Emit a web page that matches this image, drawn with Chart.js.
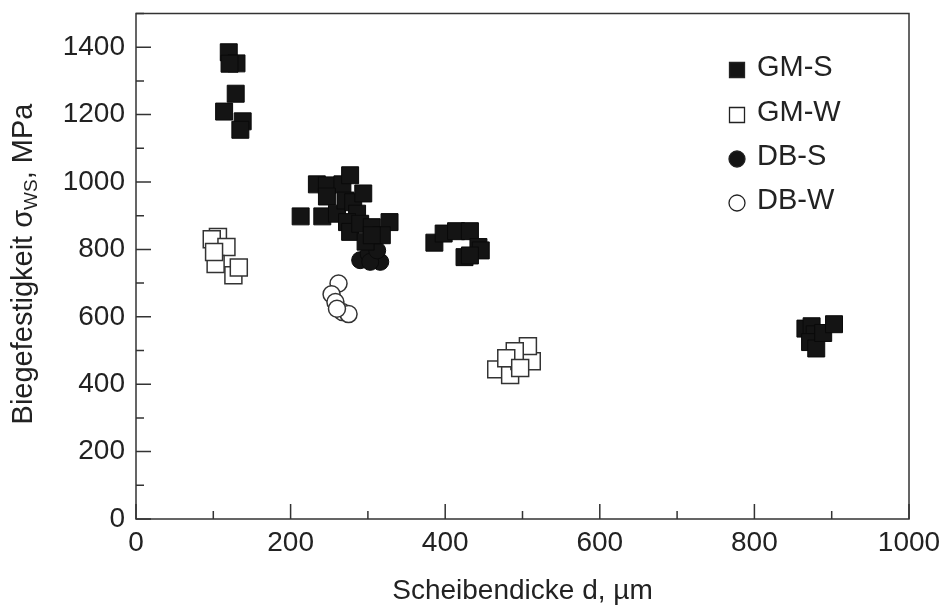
<!DOCTYPE html>
<html>
<head>
<meta charset="utf-8">
<script src="https://cdn.jsdelivr.net/npm/chart.js@4.4.0/dist/chart.umd.min.js"></script>
<style>
  html, body { margin: 0; padding: 0; background: #fff; }
</style>
</head>
<body>
<canvas id="chart" width="945" height="609"></canvas>
<script>
const gmS_d = [120, 130, 121, 129, 114, 138, 135,
  213, 241, 234, 247, 267, 277, 247, 260, 271, 281, 286, 273, 277, 290, 305, 328, 318, 297, 305, 294,
  386, 398, 414, 432, 443, 446, 425, 432,
  866, 874, 878, 872, 880, 889, 903];
const gmS_s = [1385, 1352, 1351, 1262, 1209, 1180, 1155,
  898, 898, 993, 990, 993, 1020, 957, 906, 945, 940, 906, 881, 852, 876, 866, 881, 842, 823, 842, 966,
  820, 847, 854, 854, 807, 797, 777, 782,
  565, 572, 548, 525, 506, 552, 578];

const gmW_d = [106, 98, 117, 103, 126, 133, 101, 466, 484, 496, 512, 507, 490, 479, 497];
const gmW_s = [837, 830, 807, 757, 723, 746, 792, 444, 427, 469, 468, 513, 498, 477, 448];

const dbS_d = [290, 301, 316, 303, 312];
const dbS_s = [768, 787, 763, 763, 797];

const dbW_d = [262, 253, 258, 267, 275, 260];
const dbW_s = [699, 667, 644, 614, 608, 624];

const seriesLabels = ['GM-S', 'GM-W', 'DB-S', 'DB-W'];
const xTicks = [0, 200, 400, 600, 800, 1000];
const yTicks = [0, 200, 400, 600, 800, 1000, 1200, 1400];

const FONT = '"Liberation Sans", Arial, sans-serif';
const INK = '#222';

function pts(xs, ys) {
  return xs.map((x, i) => ({ x, y: ys[i] }));
}

// Rahmen, Teilstriche, Achsentitel und Legende
const decor = {
  id: 'decor',
  afterDraw(chart) {
    const { ctx, chartArea: a, scales } = chart;
    const xs = scales.x, ys = scales.y;
    ctx.save();
    ctx.strokeStyle = '#333';
    ctx.lineWidth = 1.5;
    ctx.strokeRect(a.left, a.top, a.right - a.left, a.bottom - a.top);

    ctx.beginPath();
    xTicks.forEach((v, i) => {
      const p = xs.getPixelForValue(v);
      ctx.moveTo(p, a.bottom); ctx.lineTo(p, a.bottom - 15);
      if (i < xTicks.length - 1) {
        const m = xs.getPixelForValue(v + 100);
        ctx.moveTo(m, a.bottom); ctx.lineTo(m, a.bottom - 8);
      }
    });
    yTicks.forEach(v => {
      const p = ys.getPixelForValue(v);
      ctx.moveTo(a.left, p); ctx.lineTo(a.left + 15, p);
      const m = ys.getPixelForValue(v + 100);
      ctx.moveTo(a.left, m); ctx.lineTo(a.left + 8, m);
    });
    ctx.stroke();

    // x-Titel
    ctx.fillStyle = INK;
    ctx.font = '28px ' + FONT;
    ctx.textAlign = 'center';
    ctx.textBaseline = 'middle';
    ctx.fillText('Scheibendicke d, µm', (a.left + a.right) / 2, 591);

    // y-Titel mit Index
    const big = '29px ' + FONT, small = '19px ' + FONT;
    const t1 = 'Biegefestigkeit σ', t2 = 'WS', t3 = ', MPa';
    ctx.font = big; const w1 = ctx.measureText(t1).width, w3 = ctx.measureText(t3).width;
    ctx.font = small; const w2 = ctx.measureText(t2).width;
    const total = w1 + w2 + w3;
    ctx.translate(22, 264);
    ctx.rotate(-Math.PI / 2);
    ctx.textAlign = 'left';
    ctx.textBaseline = 'alphabetic';
    let cx = -total / 2;
    ctx.font = big; ctx.fillText(t1, cx, 10); cx += w1;
    ctx.font = small; ctx.fillText(t2, cx, 15); cx += w2;
    ctx.font = big; ctx.fillText(t3, cx, 10);
    ctx.setTransform(1, 0, 0, 1, 0, 0);

    // Legende
    const rowY = [68, 113, 157, 201];
    chart.data.datasets.forEach((ds, i) => {
      const y = rowY[i] + 2, x = 737;
      ctx.beginPath();
      if (ds.pointStyle === 'rect') ctx.rect(x - 7.5, y - 7.5, 15, 15);
      else ctx.arc(x, y, 8, 0, Math.PI * 2);
      ctx.fillStyle = ds.pointBackgroundColor;
      ctx.fill();
      ctx.lineWidth = 1.3;
      ctx.strokeStyle = '#222';
      ctx.stroke();
      ctx.fillStyle = INK;
      ctx.font = '29px ' + FONT;
      ctx.textAlign = 'left';
      ctx.textBaseline = 'middle';
      ctx.fillText(seriesLabels[i], 757, rowY[i]);
    });
    ctx.restore();
  }
};

new Chart(document.getElementById('chart').getContext('2d'), {
  type: 'scatter',
  data: {
    datasets: [
      { label: seriesLabels[0], data: pts(gmS_d, gmS_s), pointStyle: 'rect', pointRadius: 12,
        pointBackgroundColor: '#141414', pointBorderColor: '#0a0a0a', pointBorderWidth: 1 },
      { label: seriesLabels[1], data: pts(gmW_d, gmW_s), pointStyle: 'rect', pointRadius: 12,
        pointBackgroundColor: '#ffffff', pointBorderColor: '#333', pointBorderWidth: 1.5 },
      { label: seriesLabels[2], data: pts(dbS_d, dbS_s), pointStyle: 'circle', pointRadius: 8.5,
        pointBackgroundColor: '#141414', pointBorderColor: '#0a0a0a', pointBorderWidth: 1 },
      { label: seriesLabels[3], data: pts(dbW_d, dbW_s), pointStyle: 'circle', pointRadius: 8.5,
        pointBackgroundColor: '#ffffff', pointBorderColor: '#333', pointBorderWidth: 1.5 }
    ]
  },
  options: {
    responsive: false,
    animation: false,
    layout: { padding: { left: 0, top: 13, right: 36, bottom: 0 } },
    plugins: { legend: { display: false }, tooltip: { enabled: false } },
    scales: {
      x: {
        type: 'linear', min: 0, max: 1000,
        grid: { display: false, drawTicks: false },
        border: { display: false },
        afterBuildTicks: s => { s.ticks = xTicks.map(v => ({ value: v })); },
        afterFit: s => { s.height = 90; s.paddingLeft = 0; s.paddingRight = 0; },
        ticks: { color: INK, font: { family: FONT, size: 28 }, padding: 7, maxRotation: 0,
          callback: v => String(v) }
      },
      y: {
        type: 'linear', min: 0, max: 1500,
        grid: { display: false, drawTicks: false },
        border: { display: false },
        afterBuildTicks: s => { s.ticks = yTicks.map(v => ({ value: v })); },
        afterFit: s => { s.width = 136; s.paddingTop = 0; s.paddingBottom = 0; },
        ticks: { color: INK, font: { family: FONT, size: 28 }, padding: 11,
          callback: v => String(v) }
      }
    }
  },
  plugins: [decor]
});
</script>
</body>
</html>
